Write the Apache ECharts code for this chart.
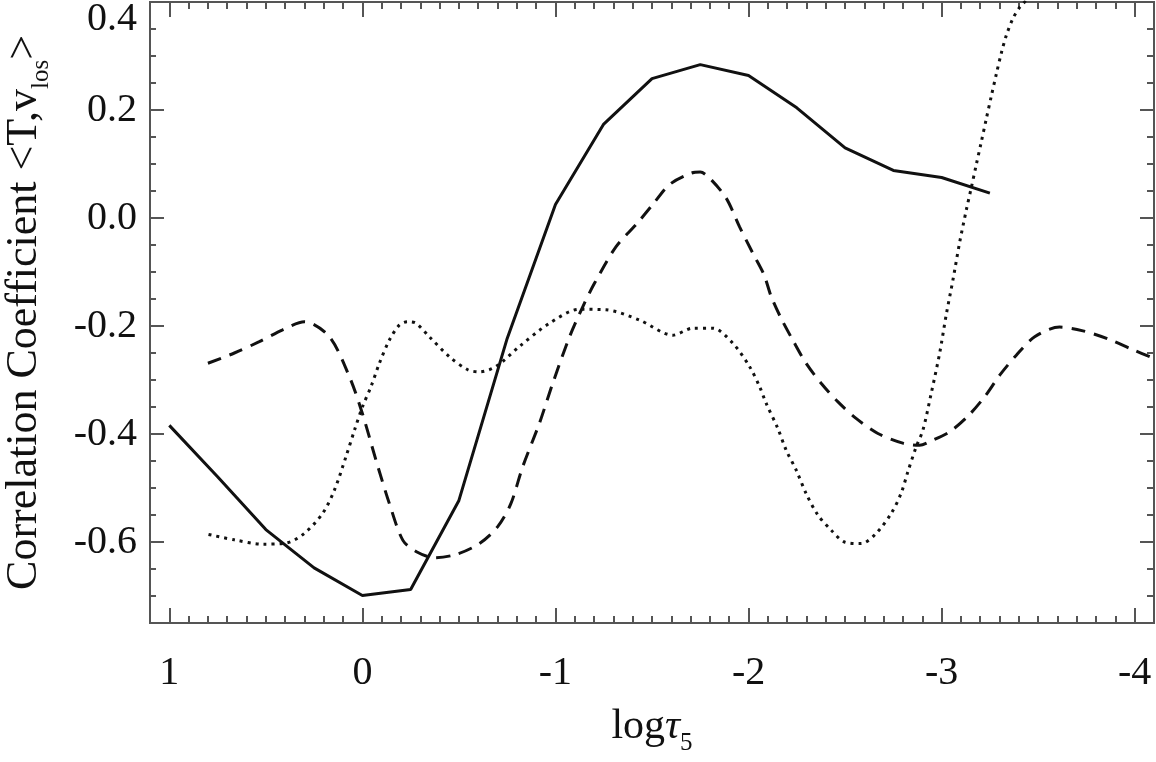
<!DOCTYPE html>
<html lang="en">
<head>
  <meta charset="UTF-8">
  <title>Correlation Coefficient</title>
  <script src="https://cdn.jsdelivr.net/npm/echarts@6/dist/echarts.min.js"></script>
  <style>
    html, body { margin: 0; padding: 0; background: #fff; }
    #main { width: 1156px; height: 762px; }
  </style>
</head>
<body>
<div id="main"></div>
<script>
  // axis ticks
  var xMajor = [1, 0, -1, -2, -3, -4];
  var yMajor = [-0.6, -0.4, -0.2, 0.0, 0.2, 0.4];
  var xMinor = [];
  for (var k = -41; k <= 11; k++) xMinor.push(k / 10);
  var yMinor = [];
  for (var j = -15; j <= 8; j++) yMinor.push(j / 20);

  // solid curve
  var solidX = [1, 0.75, 0.5, 0.25, 0, -0.25, -0.5, -0.75, -1, -1.25, -1.5, -1.75, -2, -2.25, -2.5, -2.75, -3, -3.25];
  var solidY = [-0.384, -0.479, -0.577, -0.648, -0.699, -0.688, -0.523, -0.223, 0.025, 0.174, 0.258, 0.284, 0.264, 0.204, 0.130, 0.088, 0.075, 0.046];

  // dashed curve
  var dashX = [0.80, 0.663, 0.534, 0.413, 0.30, 0.171, 0.067, 0, -0.07, -0.14, -0.21, -0.28, -0.373, -0.485, -0.606, -0.70, -0.769, -0.83, -0.917, -0.986, -1.073, -1.142, -1.202, -1.314, -1.418, -1.504, -1.591, -1.703, -1.75, -1.798, -1.884, -1.953, -2.022, -2.08, -2.117, -2.169, -2.229, -2.298, -2.376, -2.462, -2.557, -2.67, -2.799, -2.886, -2.938, -3.041, -3.136, -3.223, -3.301, -3.387, -3.482, -3.611, -3.732, -3.862, -3.991, -4.093];
  var dashY = [-0.269, -0.250, -0.229, -0.207, -0.192, -0.220, -0.294, -0.362, -0.448, -0.529, -0.597, -0.618, -0.629, -0.623, -0.603, -0.572, -0.529, -0.461, -0.380, -0.306, -0.220, -0.164, -0.121, -0.053, -0.012, 0.025, 0.062, 0.083, 0.085, 0.074, 0.037, -0.016, -0.065, -0.105, -0.145, -0.186, -0.226, -0.269, -0.306, -0.340, -0.371, -0.399, -0.417, -0.421, -0.414, -0.396, -0.367, -0.331, -0.291, -0.254, -0.220, -0.202, -0.209, -0.224, -0.244, -0.259];

  // dotted curve
  var dotX = [0.797, 0.663, 0.516, 0.395, 0.301, 0.206, 0.145, 0.085, 0.041, 0, -0.045, -0.088, -0.14, -0.192, -0.235, -0.278, -0.347, -0.451, -0.546, -0.606, -0.692, -0.813, -0.969, -1.124, -1.262, -1.435, -1.608, -1.711, -1.815, -1.919, -2.005, -2.057, -2.091, -2.152, -2.195, -2.247, -2.298, -2.359, -2.428, -2.497, -2.583, -2.661, -2.739, -2.79, -2.825, -2.868, -2.903, -2.946, -2.99, -3.024, -3.059, -3.093, -3.128, -3.153, -3.179, -3.205, -3.231, -3.257, -3.283, -3.309, -3.335, -3.37, -3.404, -3.435, -3.46];
  var dotY = [-0.586, -0.596, -0.604, -0.602, -0.584, -0.547, -0.504, -0.442, -0.393, -0.350, -0.312, -0.269, -0.226, -0.198, -0.192, -0.195, -0.220, -0.257, -0.281, -0.285, -0.275, -0.238, -0.195, -0.169, -0.170, -0.189, -0.217, -0.204, -0.204, -0.232, -0.275, -0.312, -0.343, -0.390, -0.430, -0.467, -0.510, -0.550, -0.578, -0.600, -0.603, -0.584, -0.547, -0.510, -0.470, -0.424, -0.393, -0.325, -0.250, -0.179, -0.114, -0.046, 0.015, 0.055, 0.098, 0.140, 0.183, 0.225, 0.266, 0.305, 0.338, 0.370, 0.390, 0.402, 0.415];

  function pairs(xs, ys) {
    return xs.map(function (x, i) { return [x, ys[i]]; });
  }

  var FONT = '"Liberation Serif", "DejaVu Serif", serif';
  var AXIS_COLOR = '#555';
  var INK = '#111';

  function xAxis(pos, ticks, len, labels) {
    return {
      type: 'value', position: pos, min: -4.1, max: 1.1, inverse: true,
      axisLine: { show: true, onZero: false, lineStyle: { color: AXIS_COLOR, width: 2 } },
      axisTick: { show: true, inside: true, length: len, customValues: ticks, lineStyle: { color: AXIS_COLOR, width: 2 } },
      axisLabel: labels ? {
        show: true, customValues: xMajor, margin: 30, color: INK,
        fontFamily: FONT, fontSize: 40,
        formatter: function (v) { return String(Math.round(v)); }
      } : { show: false },
      splitLine: { show: false }
    };
  }

  function yAxis(pos, ticks, len, labels) {
    return {
      type: 'value', position: pos, min: -0.75, max: 0.4,
      axisLine: { show: true, onZero: false, lineStyle: { color: AXIS_COLOR, width: 2 } },
      axisTick: { show: true, inside: true, length: len, customValues: ticks, lineStyle: { color: AXIS_COLOR, width: 2 } },
      axisLabel: labels ? {
        show: true, customValues: yMajor, margin: 13, color: INK,
        fontFamily: FONT, fontSize: 40,
        formatter: function (v) {
          var s = v.toFixed(1);
          if (s === '-0.0') s = '0.0';
          return v > 0.35 ? '{top|' + s + '}' : s;
        },
        rich: { top: { fontFamily: FONT, fontSize: 40, color: INK, padding: [34, 0, 0, 0] } }
      } : { show: false },
      splitLine: { show: false }
    };
  }

  var xs = [
    xAxis('bottom', xMajor, 15, true),
    xAxis('bottom', xMinor, 7, false),
    xAxis('top', xMajor, 15, false),
    xAxis('top', xMinor, 7, false)
  ];
  xs[0].name = 'log{t|τ}{sub|5}';
  xs[0].nameLocation = 'middle';
  xs[0].nameGap = 50;
  xs[0].nameTextStyle = {
    fontFamily: FONT, fontSize: 42, color: INK, lineHeight: 58,
    rich: {
      t: { fontFamily: FONT, fontSize: 42, fontStyle: 'italic', color: INK, lineHeight: 58 },
      sub: { fontFamily: FONT, fontSize: 25, color: INK, lineHeight: 24, verticalAlign: 'bottom' }
    }
  };

  var ys = [
    yAxis('left', yMajor, 14, true),
    yAxis('left', yMinor, 6, false),
    yAxis('right', yMajor, 14, false),
    yAxis('right', yMinor, 7, false)
  ];
  ys[0].name = 'Correlation Coefficient <T,v{sub|los}>';
  ys[0].nameLocation = 'middle';
  ys[0].nameRotate = 90;
  ys[0].nameGap = 96;
  ys[0].nameTextStyle = {
    fontFamily: FONT, fontSize: 44, color: INK, lineHeight: 60,
    rich: {
      sub: { fontFamily: FONT, fontSize: 25, color: INK, lineHeight: 24, verticalAlign: 'bottom' }
    }
  };

  var myChart = echarts.init(document.getElementById('main'));

  var option = {
    animation: false,
    backgroundColor: '#fff',
    grid: { left: 150, right: 2, top: 2, bottom: 139, containLabel: false, outerBoundsMode: 'none' },
    xAxis: xs,
    yAxis: ys,
    series: [
      {
        name: 'solid', type: 'line', showSymbol: false,
        data: pairs(solidX, solidY),
        lineStyle: { color: INK, width: 3, type: 'solid' }
      },
      {
        name: 'dashed', type: 'line', showSymbol: false, smooth: 0.3,
        data: pairs(dashX, dashY),
        lineStyle: { color: INK, width: 3, type: [14, 9] }
      },
      {
        name: 'dotted', type: 'line', showSymbol: false, smooth: 0.3,
        data: pairs(dotX, dotY),
        lineStyle: { color: INK, width: 3, type: [3, 5] }
      }
    ]
  };

  myChart.setOption(option);
</script>
</body>
</html>
